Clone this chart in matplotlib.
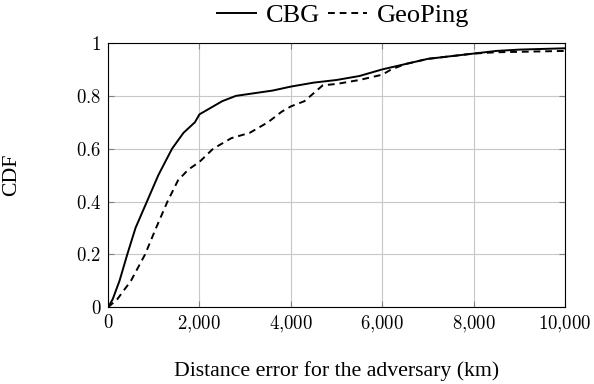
import matplotlib.pyplot as plt
from matplotlib.ticker import FuncFormatter

plt.rcParams['font.family'] = ['Liberation Serif', 'DejaVu Serif']
plt.rcParams['mathtext.fontset'] = 'cm'

# CBG 曲线
cbg_x = [0, 100, 250, 420, 600, 850, 1100, 1400, 1650, 1900, 2000, 2200, 2500,
         2800, 3200, 3600, 4000, 4500, 5000, 5500, 6000, 6500, 7000, 7500,
         8000, 8500, 9000, 10000]
cbg_y = [0, 0.03, 0.1, 0.2, 0.3, 0.4, 0.5, 0.6, 0.66, 0.7, 0.73, 0.75, 0.78,
         0.8, 0.81, 0.82, 0.835, 0.85, 0.86, 0.875, 0.9, 0.92, 0.94, 0.95,
         0.96, 0.97, 0.975, 0.98]

# GeoPing 曲线
geo_x = [0, 200, 500, 810, 1050, 1300, 1530, 1750, 2000, 2300, 2700, 3100,
         3500, 3800, 4000, 4300, 4500, 4700, 5000, 5500, 6000, 6200, 6500,
         7000, 8000, 8500, 10000]
geo_y = [0, 0.03, 0.1, 0.2, 0.3, 0.4, 0.48, 0.52, 0.55, 0.6, 0.64, 0.66,
         0.7, 0.74, 0.76, 0.78, 0.81, 0.84, 0.845, 0.86, 0.88, 0.9, 0.92,
         0.94, 0.96, 0.965, 0.97]

fig = plt.figure(figsize=(5.94, 3.84), dpi=100)
ax = fig.add_axes([0.182, 0.2, 0.769, 0.688])

ax.plot(cbg_x, cbg_y, color='black', lw=1.4, label='CBG')
ax.plot(geo_x, geo_y, color='black', lw=1.4, ls=(0, (3.5, 2.5)), label='GeoPing')

ax.set_xlim(0, 10000)
ax.set_ylim(0, 1)
ax.set_xticks([0, 2000, 4000, 6000, 8000, 10000])
ax.set_yticks([0, 0.2, 0.4, 0.6, 0.8, 1])
ax.xaxis.set_major_formatter(FuncFormatter(lambda v, p: '$' + f'{int(v):,}'.replace(',', '{,}') + '$'))
ax.yaxis.set_major_formatter(FuncFormatter(lambda v, p: f'${v:g}$'))
ax.grid(True, color='#c8c8c8', lw=0.8)
ax.tick_params(direction='in', length=4, color='#808080', labelsize=13.5,
               top=True, right=True, pad=5)
for s in ax.spines.values():
    s.set_linewidth(0.8)

ax.set_xlabel('Distance error for the adversary (km)', fontsize=15.7)
ax.set_ylabel('CDF', fontsize=15.7)
ax.xaxis.set_label_coords(0.5, -0.205)
ax.yaxis.set_label_coords(-0.19, 0.5)

fig.legend(*ax.get_legend_handles_labels(), loc='center',
           bbox_to_anchor=(0.577, 0.96), ncol=2, frameon=False,
           fontsize=19, handlelength=1.5, columnspacing=0.3, handletextpad=0.35)

fig.savefig('out.png', dpi=100)
